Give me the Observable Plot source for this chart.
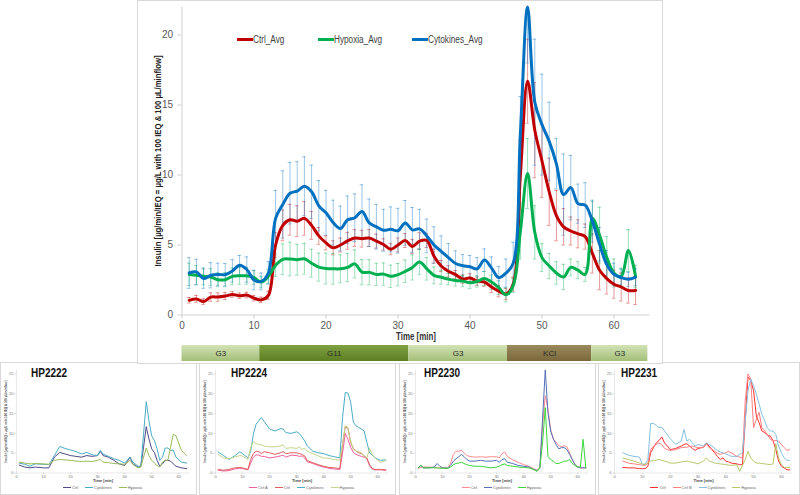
<!DOCTYPE html>
<html><head><meta charset="utf-8">
<script src="https://cdn.jsdelivr.net/npm/d3@7"></script>
<script src="https://cdn.jsdelivr.net/npm/@observablehq/plot@0.6"></script>
<style>
html,body{margin:0;padding:0;}
body{width:800px;height:495px;position:relative;overflow:hidden;background:#fff;font-family:"Liberation Sans",Arial,sans-serif;}
.box{position:absolute;background:#fff;border:1px solid #d9d9d9;box-sizing:border-box;}
.box svg{position:absolute;left:0;top:0;}
.ttitle{position:absolute;top:3px;font-weight:bold;font-size:12.5px;font-family:"Liberation Sans",Arial,sans-serif;color:#111;transform:scaleX(0.8);transform-origin:left center;}
.tleg{position:absolute;display:flex;justify-content:center;gap:7px;font-size:4px;color:#666;align-items:center;}
.tleg span.sw{display:inline-block;width:8px;height:1px;margin-right:1px;vertical-align:middle;}
.mleg{position:absolute;top:33px;font-size:10px;color:#404040;font-family:"Liberation Sans",Arial,sans-serif;display:flex;align-items:center;white-space:nowrap;}
.mleg span.sw{display:inline-block;width:16px;height:3px;}
.mleg span.tx{display:inline-block;transform:scaleX(0.82);transform-origin:left center;}
</style></head><body>
<div id="t0" class="box" style="left:0;top:362px;width:197px;height:133px"></div>
<div id="t1" class="box" style="left:199px;top:362px;width:197px;height:133px"></div>
<div id="t2" class="box" style="left:399px;top:362px;width:197px;height:133px"></div>
<div id="t3" class="box" style="left:598px;top:362px;width:202px;height:133px"></div>
<div id="main" class="box" style="left:137px;top:0;width:526px;height:364px"></div>
<script>
// ---------- main chart data ----------
const time = d3.range(1, 64);
const ctrl = [1.05,1.15,0.96,1.28,1.28,1.35,1.47,1.37,1.42,1.2,1.08,1.4,
  5.0,6.4,6.8,6.7,6.9,6.4,5.65,5.15,
  4.8,5.0,5.3,5.5,5.45,5.5,5.28,5.04,4.7,5.0,
  5.32,4.9,5.27,5.32,4.2,3.5,3.12,2.88,2.57,2.65,
  2.42,2.35,2.0,1.7,1.5,2.2,10.0,16.7,13.2,11.0,
  8.8,7.1,6.3,6.0,5.8,5.6,4.4,3.2,2.6,2.2,
  2.0,1.75,1.75];
const hypoxia = [2.9,2.84,2.76,2.72,2.52,2.52,2.76,2.8,2.8,2.67,2.35,2.76,
  3.55,3.98,4.0,3.95,4.02,3.7,3.42,3.32,
  3.3,3.3,3.4,3.65,3.06,3.05,2.9,2.92,2.76,2.88,
  3.12,3.4,3.78,3.3,2.83,2.7,2.56,2.47,2.42,2.3,
  2.4,2.6,2.35,1.95,1.44,2.1,6.0,10.1,5.9,4.1,
  3.5,3.0,2.72,3.4,3.2,2.9,6.9,5.7,4.1,3.0,
  2.75,4.6,2.75];
const cytokines = [3.0,3.08,2.6,2.84,2.9,2.88,3.15,3.55,3.25,2.5,2.4,3.0,
  6.9,7.9,8.7,8.85,9.2,8.8,7.8,7.3,
  6.6,6.18,6.8,6.95,7.4,6.58,6.3,6.05,6.12,6.02,
  6.58,6.08,6.15,5.65,5.0,4.55,4.1,3.68,3.52,3.45,
  3.3,3.92,3.35,2.67,3.0,3.7,13.0,22.0,15.2,13.6,
  12.4,10.8,8.6,9.1,7.95,7.85,6.7,5.05,3.6,2.9,
  2.67,2.55,2.7];
const ctrlErr = [0.2,0.25,0.2,0.3,0.3,0.25,0.2,0.2,0.2,0.2,0.2,0.3,
  0.9,1.1,1.1,1.1,1.2,1.0,0.6,0.5,
  0.5,0.5,0.6,0.6,0.6,0.6,0.5,0.4,0.4,0.5,
  0.5,0.5,0.6,0.5,0.5,0.4,0.4,0.3,0.3,0.3,
  0.3,0.3,0.4,0.4,0.4,0.5,2.5,3.0,3.4,2.6,
  2.4,1.8,1.3,1.0,1.0,0.9,1.4,1.4,1.1,1.0,
  1.0,0.9,1.0];
const hypoxiaErr = [0.8,0.7,0.6,0.6,0.5,0.5,0.6,0.6,0.6,0.5,0.4,0.5,
  0.8,1.1,1.2,1.1,1.1,1.0,1.0,1.1,
  1.1,1.0,1.0,1.0,0.9,0.9,0.8,0.8,0.8,0.8,
  0.8,0.9,0.9,0.8,0.6,0.5,0.4,0.4,0.4,0.4,
  0.4,0.5,0.5,0.5,0.5,0.5,2.0,2.5,1.9,1.0,
  0.9,0.8,0.9,0.6,0.6,0.5,1.2,2.0,1.5,1.0,
  0.6,1.5,0.8];
const cytokinesErr = [1.1,0.9,0.7,0.9,0.8,0.8,0.8,0.7,0.9,0.7,0.6,0.8,
  2.0,2.4,2.2,2.1,2.1,1.9,1.8,1.6,
  1.6,1.6,1.7,1.7,1.9,1.7,1.6,1.5,1.6,1.6,
  1.6,1.6,1.4,1.2,1.3,1.1,1.0,0.9,0.8,0.8,
  0.8,0.8,0.8,0.8,1.0,1.5,2.6,4.0,4.5,3.6,
  2.8,1.8,2.9,2.3,1.4,1.6,1.5,1.2,1.0,0.8,
  0.6,0.5,0.6];
const seriesNames = ["Ctrl_Avg", "Hypoxia_Avg", "Cytokines_Avg"];
const seriesColors = ["#c00000", "#00b050", "#0070c0"];
const xTicks = [0, 10, 20, 30, 40, 50, 60];
const yTicks = [0, 5, 10, 15, 20];
const yLabel = "Insulin [µg/min/IEQ = µg/L with 100 IEQ & 100 µL/minflow]";
const xLabel = "Time [min]";

// ---------- perifusion phases ----------
const phaseLabels = ["G3", "G11", "G3", "KCl", "G3"];
const phaseStart = [0, 10.8, 31.5, 45.2, 56.9];
const phaseEnd = [10.8, 31.5, 45.2, 56.9, 64.7];
const phaseKind = ["g3", "g11", "g3", "kcl", "g3"];

// ---------- thumbnails ----------
const thumbTicksX = [0, 10, 20, 30, 40, 50, 60];
const thumbTicksY = [0, 5, 10, 15, 20, 25];

const hp2222Time = [1,3,5,7,10,12,14,16,18,20,22,24,26,28,30,31,32,34,36,38,40,42,43,45,46,47,48,49,50,51,52,53,54,55,56,57,58,59,61,63];
const hp2222Ctrl = [2.0,1.5,1.3,1.5,1.3,1.3,4.0,5.2,4.8,4.4,4.2,4.0,4.4,4.2,4.4,5.5,4.4,4.0,3.2,2.3,1.9,4.0,2.3,1.5,1.7,6.5,11.7,8.6,6.1,5.2,3.2,1.7,2.3,3.2,3.2,3.0,2.3,1.7,1.3,1.1];
const hp2222Cyto = [2.5,2.2,1.7,2.3,2.2,2.1,4.4,6.7,6.2,5.8,5.4,4.8,5.2,4.6,4.4,5.7,4.8,4.2,3.6,3.2,2.5,4.0,2.75,1.7,1.7,9.8,18.0,13.2,9.4,8.2,6.1,3.2,4.0,6.3,6.3,5.7,5.8,4.0,2.75,2.5];
const hp2222Hyp = [2.75,2.5,2.3,2.4,2.3,2.2,3.2,3.4,3.3,3.2,3.0,2.9,3.0,2.9,3.2,3.4,2.75,2.6,2.4,2.3,2.2,3.2,2.2,1.3,1.5,4.0,6.3,4.4,3.2,2.5,1.9,1.5,2.75,3.2,3.2,6.5,9.8,9.4,5.7,4.4];

const hp2224Time = [1,3,5,7,9,10,12,13,14,15,16,17,18,20,22,24,25,26,28,30,31,32,33,34,36,38,40,42,44,46,47,48,49,50,51,52,53,54,55,56,57,58,59,61,63];
const hp2224CtrlA = [0.7,0.5,0.6,1.0,1.2,1.1,0.8,2.5,4.0,4.6,4.5,4.2,4.2,3.8,4.0,4.3,4.5,4.0,4.5,4.4,4.2,4.3,3.8,2.8,2.4,1.9,1.5,1.2,1.0,0.9,5.0,10.0,8.5,6.5,5.2,4.7,4.4,4.2,4.0,3.6,1.8,1.0,0.8,0.8,0.7];
const hp2224CtrlB = [0.9,0.7,0.9,1.3,1.4,1.3,0.9,3.4,4.9,5.5,5.4,4.9,5.4,5.1,4.7,5.1,5.4,4.9,5.1,5.1,4.9,4.7,4.3,3.1,2.6,2.1,1.7,1.4,1.3,1.1,7.2,11.7,11.3,7.7,6.2,5.5,5.1,4.9,4.3,3.8,2.1,1.1,0.9,0.9,0.8];
const hp2224Cyto = [5.3,4.4,3.4,4.3,5.3,4.9,3.8,5.5,9.8,12.3,13.2,14.0,13.0,11.1,10.6,11.2,11.1,10.2,10.0,10.4,10.0,9.1,8.1,6.8,5.5,5.1,4.9,4.4,4.1,3.8,14.0,20.3,20.2,17.9,12.8,11.9,11.5,11.1,10.6,7.7,5.1,4.5,3.8,3.2,3.3];
const hp2224Hyp = [4.7,3.8,3.6,4.0,4.4,4.3,3.4,6.4,7.9,7.4,7.2,7.1,6.8,6.6,6.6,6.8,7.1,6.2,6.4,6.2,6.6,6.0,6.2,5.5,4.9,4.3,3.8,3.7,3.4,3.2,7.2,11.9,11.5,8.1,6.0,5.5,5.4,5.1,4.3,3.8,6.2,4.7,3.8,2.7,3.1];

const hp2230Time = [1,2,3,5,7,8,9,10,12,13,14,15,16,17,18,19,20,22,24,26,28,30,31,32,33,34,36,38,40,42,44,45,46,47,48,49,50,51,52,53,54,55,56,57,58,59,60,61,62,63];
const hp2230Ctrl = [1.2,1.4,1.5,1.5,1.4,1.3,1.3,1.3,1.3,2.5,4.7,5.5,5.5,5.7,5.1,4.4,4.2,4.0,4.1,4.0,4.1,4.1,3.8,4.9,5.3,4.2,3.3,2.7,2.1,1.7,1.0,0.7,1.3,11.9,19.5,16.1,11.0,8.5,7.8,6.9,6.6,6.9,6.6,5.1,3.4,2.1,1.5,1.3,1.3,1.3];
const hp2230Cyto = [1.3,1.9,1.3,1.3,1.5,2.4,1.7,1.3,1.2,1.9,3.0,3.6,4.1,4.7,4.1,3.4,3.0,3.0,3.2,3.0,3.0,3.2,2.7,3.4,3.6,2.7,2.4,1.9,1.7,1.5,0.8,0.6,1.3,13.6,26.0,15.3,10.6,8.6,7.2,6.1,6.4,6.4,5.9,4.7,3.4,2.1,1.5,1.3,1.3,1.3];
const hp2230Hyp = [1.3,1.9,1.3,1.3,1.3,1.3,1.2,1.2,1.2,1.5,2.1,2.4,2.5,2.7,2.4,2.1,1.9,1.7,1.7,1.5,1.3,1.5,1.7,2.1,2.3,1.9,1.7,1.5,1.4,1.3,0.8,0.4,1.3,7.6,16.5,4.2,3.4,3.0,2.4,2.4,2.7,3.0,3.0,3.4,2.4,1.9,1.5,1.5,8.5,1.3];

const hp2231Time = [3,5,7,9,10,11,12,13,14,15,16,17,18,19,20,22,24,25,26,27,28,29,30,32,33,34,35,36,37,38,39,40,41,42,44,45,46,47,48,49,50,51,52,53,54,55,56,57,58,59,60,61,62,63];
const hp2231CtrlA = [1.4,1.3,1.3,1.1,1.1,1.1,1.7,5.1,6.4,7.6,8.2,9.1,7.6,6.8,5.9,6.2,6.8,7.2,7.4,6.8,6.2,5.7,6.2,6.5,7.6,6.8,5.9,5.1,4.2,3.4,3.8,3.0,2.8,2.5,2.3,2.1,2.1,13.1,24.2,23.3,20.8,14.4,12.7,10.6,10.2,9.6,9.3,8.2,5.9,3.0,1.7,1.3,0.8,0.8];
const hp2231CtrlB = [3.0,2.5,2.3,2.1,2.0,1.9,2.5,5.9,6.8,7.2,7.6,7.2,6.2,5.9,5.7,5.9,6.4,6.5,6.5,6.7,6.8,6.6,6.4,6.5,7.2,6.5,6.0,5.5,5.0,4.7,4.9,5.1,5.5,5.1,4.2,4.0,3.8,18.2,25.0,23.7,11.4,13.6,15.3,11.4,10.6,9.7,8.5,8.1,8.2,8.1,7.2,6.4,5.7,5.9];
const hp2231Cyto = [5.1,4.5,4.2,4.0,2.1,2.3,3.4,12.5,12.5,12.1,11.4,11.6,10.6,9.7,8.7,7.2,8.1,11.0,8.1,8.5,7.6,6.8,7.2,6.8,7.6,7.2,6.8,6.2,5.7,5.3,5.1,4.8,4.5,4.2,4.2,4.7,5.1,13.1,20.8,23.7,22.0,19.9,17.4,14.8,13.1,11.4,10.6,10.6,9.7,6.8,5.1,3.8,3.2,3.2];
const hp2231Hyp = [3.8,3.4,3.0,2.5,2.3,2.1,2.5,3.0,3.1,3.2,3.4,3.2,3.0,2.8,2.5,2.5,2.8,2.9,3.0,2.8,2.7,2.5,2.3,3.0,3.8,3.1,2.8,2.5,2.4,2.3,2.2,2.1,2.0,1.9,2.1,0.4,1.9,3.4,5.5,3.8,3.0,2.5,2.5,2.4,2.3,2.2,2.1,2.3,7.4,3.8,2.1,1.4,1.4,1.4];

const baseFont = "'Liberation Sans',Arial,sans-serif";

// ---------- main chart ----------
const mainBox = document.getElementById("main");
const series = [
  {values: ctrl, err: ctrlErr},
  {values: hypoxia, err: hypoxiaErr},
  {values: cytokines, err: cytokinesErr}
].map((s, k) => ({name: seriesNames[k], color: seriesColors[k],
  rows: time.map((t, i) => ({t, v: s.values[i], e: s.err[i]}))}));

const errMarks = series.flatMap(s => [
  Plot.ruleX(s.rows, {x: "t", y1: d => d.v - d.e, y2: d => d.v + d.e, stroke: s.color, strokeOpacity: 0.4, strokeWidth: 1, clip: true}),
  Plot.ruleY(s.rows, {y: d => d.v + d.e, x1: d => d.t - 0.25, x2: d => d.t + 0.25, stroke: s.color, strokeOpacity: 0.4, strokeWidth: 1, clip: true}),
  Plot.ruleY(s.rows, {y: d => d.v - d.e, x1: d => d.t - 0.25, x2: d => d.t + 0.25, stroke: s.color, strokeOpacity: 0.4, strokeWidth: 1, clip: true})
]);
const lineMarks = series.map(s =>
  Plot.line(s.rows, {x: "t", y: "v", stroke: s.color, strokeWidth: 3, curve: "catmull-rom"}));

const mainPlot = Plot.plot({
  width: 524, height: 345,
  marginLeft: 43.5, marginRight: 12.5, marginTop: 5.5, marginBottom: 31.5,
  x: {domain: [0, 65]},
  y: {domain: [0, 22]},
  style: {fontFamily: baseFont, fontSize: "10px", color: "#595959", background: "transparent"},
  marks: [
    Plot.ruleX([0], {stroke: "#d0d0d0"}),
    Plot.ruleY([0], {stroke: "#d0d0d0"}),
    Plot.axisX({ticks: xTicks, tickSize: 4, tickPadding: 3, stroke: "#d0d0d0", label: null}),
    Plot.axisY({ticks: yTicks, tickSize: 4, tickPadding: 5, stroke: "#d0d0d0", label: null}),
    ...errMarks,
    ...lineMarks,
    Plot.text([xLabel], {frameAnchor: "bottom", dy: 25, fontWeight: "bold", fill: "#333", fontSize: 10}),
    Plot.text([yLabel], {frameAnchor: "left", rotate: -90, dx: -24, textAnchor: "middle", fontWeight: "bold", fill: "#222", fontSize: 9})
  ]
});
// condense the axis titles to the width they have in the source
d3.select(mainPlot).selectAll("text").each(function() {
  const s = d3.select(this);
  if (this.textContent === yLabel) s.attr("textLength", 211).attr("lengthAdjust", "spacingAndGlyphs");
  if (this.textContent === xLabel) s.attr("textLength", 40).attr("lengthAdjust", "spacingAndGlyphs");
});
mainBox.appendChild(mainPlot);

// legend (inside main chart)
const legendLeft = [99, 180, 274];
seriesNames.forEach((n, k) => {
  const d = document.createElement("div");
  d.className = "mleg";
  d.style.left = legendLeft[k] + "px";
  d.innerHTML = `<span class="sw" style="background:${seriesColors[k]}"></span><span class="tx">${n}</span>`;
  mainBox.appendChild(d);
});

// phase bar
const phases = phaseLabels.map((label, i) => ({label, start: phaseStart[i], end: phaseEnd[i], kind: phaseKind[i]}));
const phaseGrad = {g3: ["#d3e3b6", "#a3be77"], g11: ["#7fa142", "#5d7f22"], kcl: ["#9a8a5c", "#7a683a"]};
const barPlot = Plot.plot({
  width: 524, height: 16,
  marginLeft: 43.5, marginRight: 12.5, marginTop: 0, marginBottom: 0,
  x: {domain: [0, 65], axis: null},
  style: {fontFamily: baseFont, background: "transparent"},
  marks: [
    ...phases.map(p => Plot.rect([p], {x1: "start", x2: "end", fill: `url(#grad-${p.kind})`})),
    Plot.text(phases, {x: d => (d.start + d.end) / 2, text: "label", frameAnchor: "middle", fontSize: 8, fill: "#2a2a2a"})
  ]
});
const defs = d3.select(barPlot).insert("defs", ":first-child");
Object.entries(phaseGrad).forEach(([k, [c1, c2]]) => {
  const g = defs.append("linearGradient").attr("id", "grad-" + k).attr("x1", 0).attr("x2", 0).attr("y1", 0).attr("y2", 1);
  g.append("stop").attr("offset", "0%").attr("stop-color", c1);
  g.append("stop").attr("offset", "100%").attr("stop-color", c2);
});
barPlot.style.top = "344px";
mainBox.appendChild(barPlot);

// ---------- thumbnails ----------
function thumb(id, title, titleLeft, times, lines) {
  const box = document.getElementById(id);
  const W = box.clientWidth;
  const mL = 15, mR = 7;
  const p = Plot.plot({
    width: W, height: 125,
    marginLeft: mL, marginRight: mR, marginTop: 6.5, marginBottom: 15.5,
    x: {domain: [0, 64]},
    y: {domain: [0, 26]},
    style: {fontFamily: baseFont, fontSize: "4px", color: "#777", background: "transparent"},
    marks: [
      Plot.ruleX([0], {stroke: "#d9d9d9", strokeWidth: 0.6}),
      Plot.ruleY([0], {stroke: "#d9d9d9", strokeWidth: 0.6}),
      Plot.axisX({ticks: thumbTicksX, tickSize: 1.5, tickPadding: 1, stroke: "#d9d9d9", label: null}),
      Plot.axisY({ticks: thumbTicksY, tickSize: 1.5, tickPadding: 1.5, stroke: "#d9d9d9", label: null}),
      ...lines.map(l => Plot.line(times.map((t, i) => ({t, v: l.values[i]})), {x: "t", y: "v", stroke: l.color, strokeWidth: 1})),
      Plot.text([xLabel], {frameAnchor: "bottom", dy: 9, fontSize: 4, fontWeight: "bold", fill: "#444"}),
      Plot.text([yLabel], {frameAnchor: "left", rotate: -90, dx: -10, textAnchor: "middle", fontSize: 3, fontWeight: "bold", fill: "#444"})
    ]
  });
  box.appendChild(p);
  const t = document.createElement("div");
  t.className = "ttitle";
  t.style.left = titleLeft + "px";
  t.textContent = title;
  box.appendChild(t);
  const lg = document.createElement("div");
  lg.className = "tleg";
  lg.style.left = mL + "px"; lg.style.width = (W - mL - mR) + "px"; lg.style.top = "122px";
  lg.innerHTML = lines.map(l => `<span><span class="sw" style="background:${l.color}"></span>${l.name}</span>`).join("");
  box.appendChild(lg);
}

thumb("t0", "HP2222", 30, hp2222Time, [
  {name: "Ctrl", color: "#4f4a85", values: hp2222Ctrl},
  {name: "Cytokines", color: "#4bacc6", values: hp2222Cyto},
  {name: "Hypoxia", color: "#9bbb59", values: hp2222Hyp}
]);
thumb("t1", "HP2224", 31, hp2224Time, [
  {name: "Ctrl A", color: "#f2609a", values: hp2224CtrlA},
  {name: "Ctrl", color: "#e0605a", values: hp2224CtrlB},
  {name: "Cytokines", color: "#4bacc6", values: hp2224Cyto},
  {name: "Hypoxia", color: "#c3d68a", values: hp2224Hyp}
]);
thumb("t2", "HP2230", 24, hp2230Time, [
  {name: "Ctrl", color: "#ff8c8c", values: hp2230Ctrl},
  {name: "Cytokines", color: "#5470b8", values: hp2230Cyto},
  {name: "Hypoxia", color: "#3cd63c", values: hp2230Hyp}
]);
thumb("t3", "HP2231", 22, hp2231Time, [
  {name: "Ctrl", color: "#ff3030", values: hp2231CtrlA},
  {name: "Ctrl B", color: "#ff8080", values: hp2231CtrlB},
  {name: "Cytokines", color: "#86c0e0", values: hp2231Cyto},
  {name: "Hypoxia", color: "#b5c96b", values: hp2231Hyp}
]);
</script>
</body></html>
